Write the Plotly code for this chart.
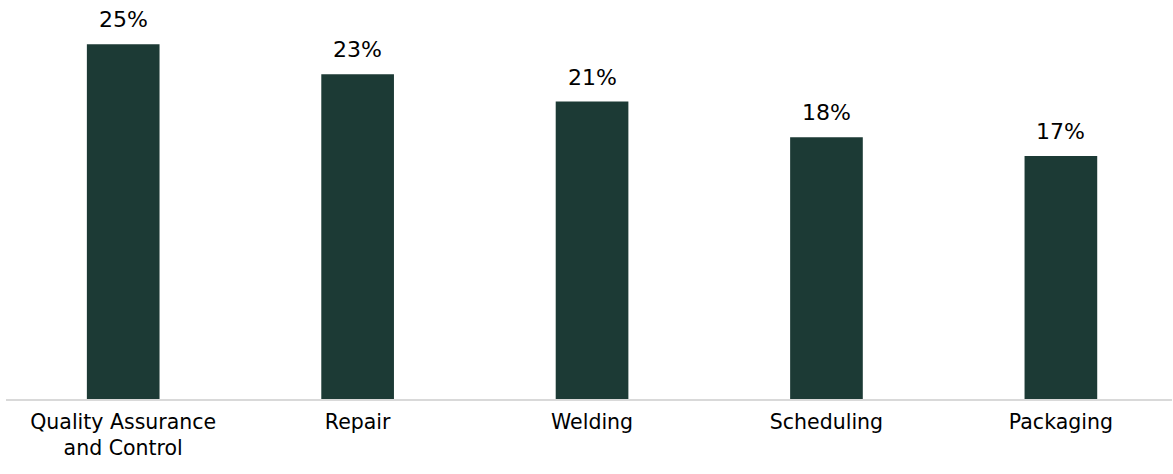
import plotly.graph_objects as go

categories = ["Quality Assurance<br>and Control", "Repair", "Welding", "Scheduling", "Packaging"]
values = [0.248, 0.227, 0.208, 0.183, 0.170]

BAR_COLOR = "#1c3a35"
FONT = "'DejaVu Sans', sans-serif"

fig = go.Figure()
fig.add_trace(go.Bar(
    x=categories,
    y=values,
    width=0.31,
    marker=dict(color=BAR_COLOR, line=dict(width=0)),
    hoverinfo="skip",
))

for c, v in zip(categories, values):
    fig.add_annotation(
        x=c, y=v, xref="x", yref="y",
        text=f"{v:.0%}",
        showarrow=False,
        yanchor="bottom",
        yshift=10,
        font=dict(family=FONT, size=22, color="#000000"),
    )

fig.update_layout(
    width=1173,
    height=474,
    margin=dict(l=6, r=1, t=0, b=75, autoexpand=False),
    paper_bgcolor="white",
    plot_bgcolor="white",
    showlegend=False,
    font=dict(family=FONT, size=20.5, color="#000000"),
    xaxis=dict(
        type="category",
        range=[-0.5, 4.474],
        automargin=False,
        showline=True,
        linecolor="#d9d9d9",
        linewidth=2,
        showgrid=False,
        ticks="outside",
        ticklen=3,
        tickcolor="rgba(0,0,0,0)",
        tickfont=dict(family=FONT, size=20.5, color="#000000"),
    ),
    yaxis=dict(
        range=[0, 0.279],
        visible=False,
        showgrid=False,
        zeroline=False,
    ),
)

fig.write_html(
    "out.html",
    config={"displayModeBar": False, "staticPlot": True},
    post_script="document.body.style.margin='0';document.body.style.overflow='hidden';",
)
